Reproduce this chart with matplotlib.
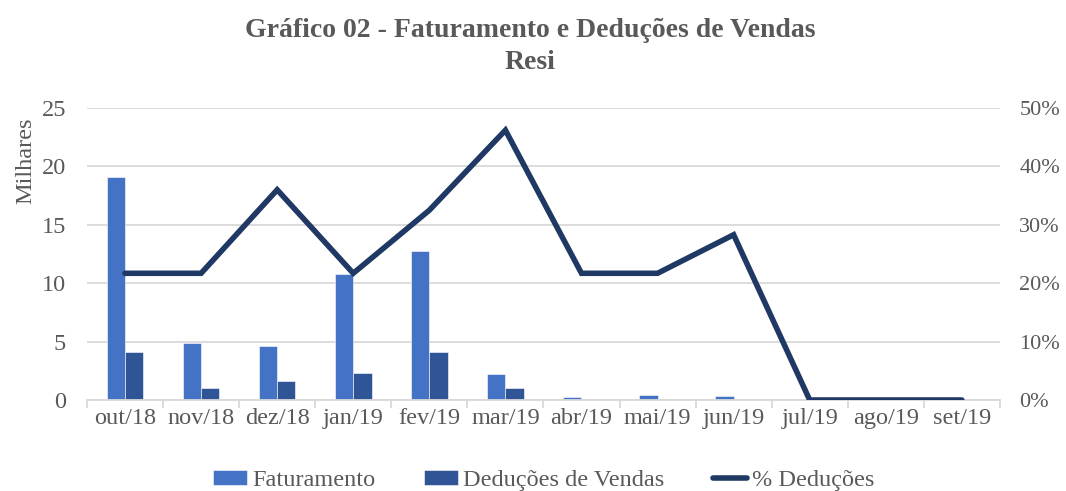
import numpy as np
import matplotlib.pyplot as plt
from matplotlib.ticker import FuncFormatter, FixedLocator

plt.rcParams['font.family'] = ['Liberation Serif', 'DejaVu Serif']

meses = ["out/18", "nov/18", "dez/18", "jan/19", "fev/19", "mar/19",
         "abr/19", "mai/19", "jun/19", "jul/19", "ago/19", "set/19"]
faturamento = [19.1, 4.9, 4.6, 10.8, 12.8, 2.2, 0.25, 0.4, 0.35, 0, 0, 0]
deducoes = [4.1, 1.0, 1.6, 2.3, 4.1, 1.0, 0.05, 0.08, 0.08, 0, 0, 0]
pct_deducoes = [21.7, 21.7, 36.0, 21.7, 32.5, 46.2, 21.7, 21.7, 28.3, 0, 0, 0]

cor_fat = "#4472C4"
cor_ded = "#2F5597"
cor_pct = "#1F3864"
cinza = "#595959"
fs = 17.5

fig = plt.figure(figsize=(10.66, 4.91), dpi=100)
ax = fig.add_axes([0.0816, 0.1853, 0.8564, 0.5947])
x = np.arange(len(meses))
w = 0.24

b1 = ax.bar(x - w / 2, faturamento, w, color=cor_fat, edgecolor="white", linewidth=0.4,
            label="Faturamento", zorder=2)
b2 = ax.bar(x + w / 2, deducoes, w, color=cor_ded, edgecolor="white", linewidth=0.4,
            label="Deduções de Vendas", zorder=2)

ax.set_xlim(-0.5, len(meses) - 0.5)
ax.set_ylim(0, 25)
ax.set_yticks(range(0, 26, 5))
ax.grid(axis="y", color="#D9D9D9", linewidth=1.3, zorder=0)
ax.set_axisbelow(True)
for s in ["top", "right", "left"]:
    ax.spines[s].set_visible(False)
ax.spines["bottom"].set_color("#D9D9D9")
ax.spines["bottom"].set_linewidth(1.3)

ax.set_xticks(x)
ax.set_xticklabels(meses)
ax.tick_params(axis="x", length=0, labelsize=fs, colors=cinza, pad=6)
ax.xaxis.set_minor_locator(FixedLocator(np.arange(-0.5, len(meses), 1)))
ax.tick_params(axis="x", which="minor", length=6, color="#D9D9D9", width=1.3)
ax.tick_params(axis="y", length=0, labelsize=fs, colors=cinza, pad=15)
ax.set_ylabel("Milhares", fontsize=fs, color=cinza, labelpad=2)
ax.yaxis.set_label_coords(-0.056, 0.82)

ax2 = ax.twinx()
l1, = ax2.plot(x, pct_deducoes, color=cor_pct, linewidth=4, solid_capstyle="round",
               solid_joinstyle="miter", label="% Deduções", zorder=3)
ax2.set_ylim(0, 50)
ax2.set_yticks(range(0, 51, 10))
ax2.yaxis.set_major_formatter(FuncFormatter(lambda v, p: f"{int(v)}%"))
ax2.tick_params(axis="y", length=0, labelsize=16, colors=cinza, pad=14)
for s in ax2.spines.values():
    s.set_visible(False)

fig.text(0.497, 0.905, "Gráfico 02 - Faturamento e Deduções de Vendas\nResi",
         ha="center", va="center", fontsize=20, fontweight="bold", color=cinza,
         linespacing=1.4)

fig.legend(handles=[b1, b2, l1], loc="lower center", bbox_to_anchor=(0.51, -0.045),
           ncol=3, frameon=False, fontsize=fs, handlelength=1.4, handleheight=0.55,
           columnspacing=2.0, labelcolor=cinza, handletextpad=0.2)

fig.savefig("out.png", dpi=100)
